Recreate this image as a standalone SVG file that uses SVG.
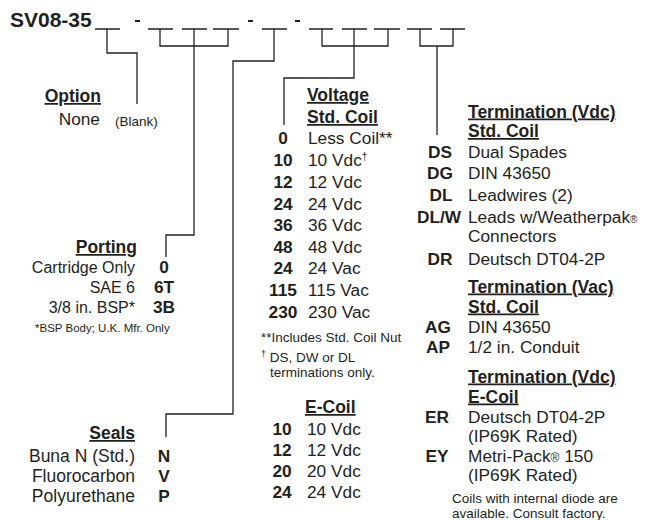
<svg xmlns="http://www.w3.org/2000/svg" width="647" height="520" viewBox="0 0 647 520">
<style>
text{font-family:"Liberation Sans",Arial,sans-serif;fill:#231f20;font-size:17.3px}
.b{font-weight:bold}
.h{font-weight:bold;text-decoration:underline;font-size:17.5px}
.s{font-size:13.5px}
.xs{font-size:11.5px}
.p{font-size:16px}
.se{font-size:17.5px}
.e{text-anchor:end}
.m{text-anchor:middle}
.ln{fill:none;stroke:#231f20;stroke-width:1.3}
</style>
<rect width="647" height="520" fill="#fff"/>
<g id="title">
<text x="10" y="27" class="b" style="font-size:21px">SV08-35</text>
</g>
<g id="connectors" class="ln">
<path d="M95 29H120M148 29H173M182 29H207M213 29H239M262 29H287M309 29H333M342 29H367M374 29H400M407 29H432M440 29H465"/>
<path d="M135 21H140M248 21H253M295 21H300" stroke-width="2"/>
<path d="M107 29V53H137V104"/>
<path d="M160 29V46H228V29M194 29V235H166V257"/>
<path d="M274 29V61H233V414H166V437"/>
<path d="M322 29V46H388V29M354 29V78H284V125"/>
<path d="M420 29V46H453V29M437 46V135"/>
</g>
<g id="option">
<text x="101" y="102" class="h e">Option</text>
<text x="100" y="125" class="e">None</text>
<text x="115" y="126" class="s">(Blank)</text>
</g>
<g id="porting">
<text x="137" y="253" class="h e">Porting</text>
<text x="135" y="273" class="e p">Cartridge Only</text><text x="164" y="273" class="b m">0</text>
<text x="135" y="293" class="e p">SAE 6</text><text x="164" y="293" class="b m">6T</text>
<text x="135" y="313" class="e p">3/8 in. BSP*</text><text x="164" y="313" class="b m">3B</text>
<text x="35" y="332" class="xs">*BSP Body; U.K. Mfr. Only</text>
</g>
<g id="seals">
<text x="135" y="439" class="h e">Seals</text>
<text x="135" y="462" class="e se">Buna N (Std.)</text><text x="164" y="462" class="b m">N</text>
<text x="135" y="482" class="e se">Fluorocarbon</text><text x="164" y="482" class="b m">V</text>
<text x="135" y="502" class="e se">Polyurethane</text><text x="164" y="502" class="b m">P</text>
</g>
<g id="voltage">
<text x="307" y="101" class="h">Voltage</text>
<text x="307" y="123" class="h">Std. Coil</text>
<text x="283" y="144" class="b m">0</text><text x="308" y="144">Less Coil**</text>
<text x="283" y="166" class="b m">10</text><text x="308" y="166">10 Vdc<tspan font-size="10" dy="-6">†</tspan></text>
<text x="283" y="188" class="b m">12</text><text x="308" y="188">12 Vdc</text>
<text x="283" y="210" class="b m">24</text><text x="308" y="210">24 Vdc</text>
<text x="283" y="231" class="b m">36</text><text x="308" y="231">36 Vdc</text>
<text x="283" y="253" class="b m">48</text><text x="308" y="253">48 Vdc</text>
<text x="283" y="274" class="b m">24</text><text x="308" y="274">24 Vac</text>
<text x="283" y="296" class="b m">115</text><text x="308" y="296">115 Vac</text>
<text x="283" y="318" class="b m">230</text><text x="308" y="318">230 Vac</text>
<text x="261" y="342" class="s">**Includes Std. Coil Nut</text>
<text x="261" y="362" class="s"><tspan font-size="9" dy="-5">†</tspan><tspan dy="5"> DS, DW or DL</tspan></text>
<text x="270" y="377" class="s">terminations only.</text>
</g>
<g id="ecoil">
<text x="305" y="413" class="h">E-Coil</text>
<text x="282" y="435" class="b m">10</text><text x="307" y="435">10 Vdc</text>
<text x="282" y="456" class="b m">12</text><text x="307" y="456">12 Vdc</text>
<text x="282" y="477" class="b m">20</text><text x="307" y="477">20 Vdc</text>
<text x="282" y="498" class="b m">24</text><text x="307" y="498">24 Vdc</text>
</g>
<g id="termination-vdc">
<text x="468" y="117.5" class="h">Termination (Vdc)</text>
<text x="468" y="137" class="h">Std. Coil</text>
<text x="440" y="157.5" class="b m">DS</text><text x="468" y="157.5">Dual Spades</text>
<text x="440" y="179" class="b m">DG</text><text x="468" y="179">DIN 43650</text>
<text x="441" y="201" class="b m">DL</text><text x="468" y="201">Leadwires (2)</text>
<text x="439" y="222.5" class="b m">DL/W</text><text x="468" y="222.5">Leads w/Weatherpak<tspan font-size="10">®</tspan></text>
<text x="468" y="242">Connectors</text>
<text x="440" y="265" class="b m">DR</text><text x="468" y="265">Deutsch DT04-2P</text>
</g>
<g id="termination-vac">
<text x="468" y="292.5" class="h">Termination (Vac)</text>
<text x="468" y="312.5" class="h">Std. Coil</text>
<text x="438" y="333" class="b m">AG</text><text x="468" y="333">DIN 43650</text>
<text x="438" y="353" class="b m">AP</text><text x="468" y="353">1/2 in. Conduit</text>
</g>
<g id="termination-ecoil">
<text x="468" y="382.5" class="h">Termination (Vdc)</text>
<text x="468" y="402.5" class="h">E-Coil</text>
<text x="437" y="423" class="b m">ER</text><text x="468" y="423">Deutsch DT04-2P</text>
<text x="468" y="442">(IP69K Rated)</text>
<text x="437" y="461.5" class="b m">EY</text><text x="468" y="461.5">Metri-Pack<tspan font-size="12">®</tspan> 150</text>
<text x="468" y="481">(IP69K Rated)</text>
<text x="452" y="503" class="s">Coils with internal diode are</text>
<text x="452" y="518" class="s">available. Consult factory.</text>
</g>
</svg>
